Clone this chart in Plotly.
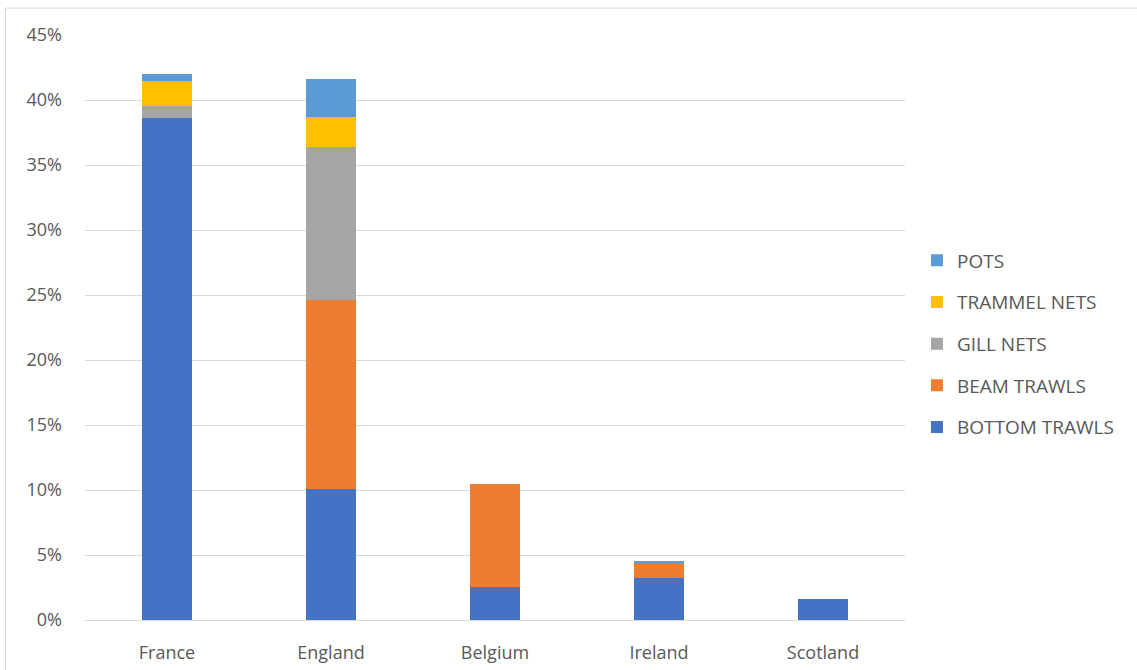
import plotly.graph_objects as go

countries = ["France", "England", "Belgium", "Ireland", "Scotland"]

bottom_trawls = [38.6, 10.1, 2.55, 3.25, 1.65]
beam_trawls = [0.0, 14.5, 7.9, 1.05, 0.0]
gill_nets = [0.95, 11.8, 0.0, 0.0, 0.0]
trammel_nets = [1.95, 2.3, 0.0, 0.0, 0.0]
pots = [0.5, 2.9, 0.0, 0.25, 0.0]

series = [
    ("BOTTOM TRAWLS", bottom_trawls, "#4472C4"),
    ("BEAM TRAWLS", beam_trawls, "#ED7D31"),
    ("GILL NETS", gill_nets, "#A5A5A5"),
    ("TRAMMEL NETS", trammel_nets, "#FFC000"),
    ("POTS", pots, "#5B9BD5"),
]

fig = go.Figure()
for i, (name, vals, color) in enumerate(series):
    fig.add_trace(go.Bar(
        x=countries,
        y=[v / 100 for v in vals],
        name=name,
        legendgroup=name,
        legendrank=1000 - i,
        marker=dict(color=color, line=dict(width=0)),
    ))

font_family = "Open Sans, Liberation Sans, sans-serif"

fig.update_layout(
    barmode="stack",
    bargap=0.695,
    width=1137,
    height=670,
    margin=dict(l=85, r=232, t=35, b=50, autoexpand=False),
    paper_bgcolor="white",
    plot_bgcolor="white",
    font=dict(family=font_family, size=18, color="#595959"),
    xaxis=dict(
        showgrid=False,
        showline=True,
        linecolor="#D9D9D9",
        linewidth=1,
        ticks="",
        automargin=False,
        ticklabelstandoff=16,
        tickfont=dict(size=18, color="#595959"),
    ),
    yaxis=dict(
        range=[0, 0.45],
        tickvals=[i * 0.05 for i in range(10)],
        tickformat=".0%",
        showgrid=True,
        gridcolor="#D9D9D9",
        gridwidth=1,
        zeroline=False,
        ticks="",
        automargin=False,
        ticklabelstandoff=22,
        tickfont=dict(size=18, color="#595959"),
    ),
    legend=dict(
        x=1.0146,
        xanchor="left",
        y=0.472,
        yanchor="middle",
        traceorder="grouped",
        tracegroupgap=14,
        itemwidth=30,
        font=dict(size=19, color="#595959"),
        bgcolor="rgba(0,0,0,0)",
    ),
    shapes=[
        dict(
            type="rect",
            xref="paper",
            yref="paper",
            x0=-0.097,
            x1=1.3,
            y0=-0.13,
            y1=1.046,
            line=dict(color="#D9D9D9", width=1),
            fillcolor="rgba(0,0,0,0)",
            layer="below",
        )
    ],
)

fig.write_html("out.html")
